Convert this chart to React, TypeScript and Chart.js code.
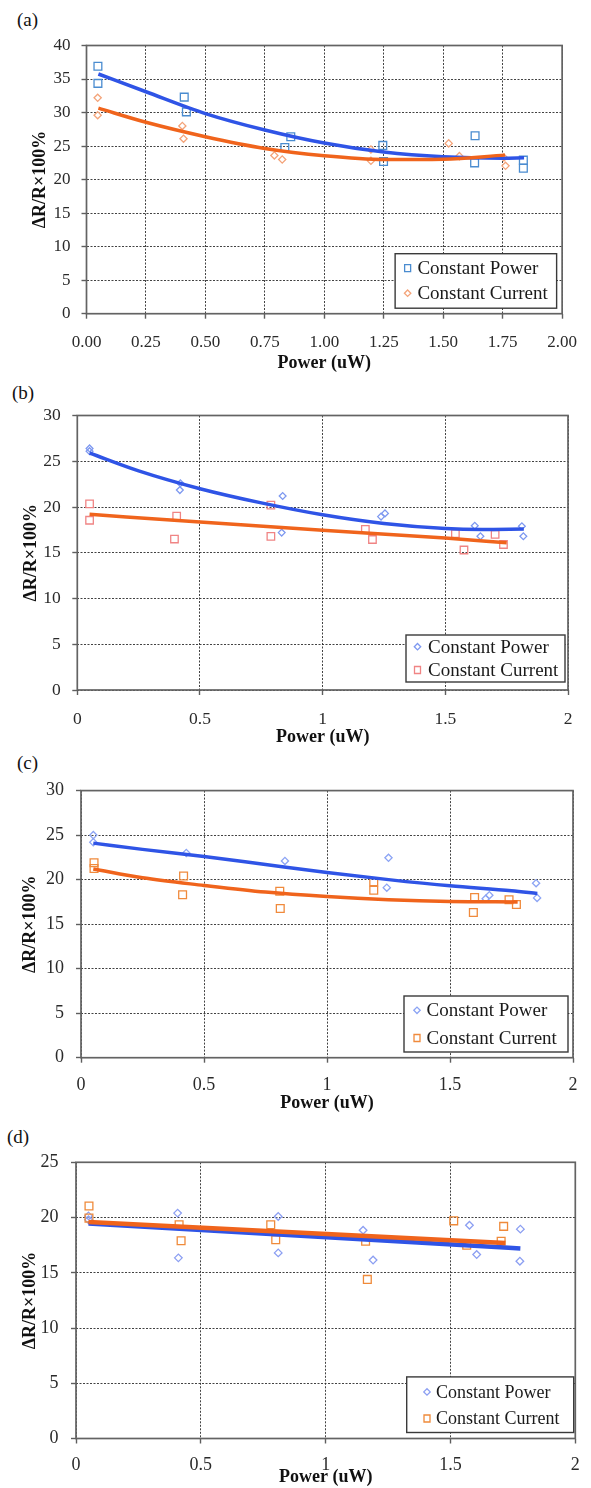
import React, { useEffect, useRef } from "react";
import { Chart, registerables } from "chart.js";

Chart.register(...registerables);

const SERIF = '"Liberation Serif", "Times New Roman", serif';

// ---------------- Data ----------------
const X_TICKS_A = ["0.00", "0.25", "0.50", "0.75", "1.00", "1.25", "1.50", "1.75", "2.00"];
const X_TICKS_BCD = ["0", "0.5", "1", "1.5", "2"];
const SERIES_LABELS = ["Constant Power", "Constant Current"];
const PANEL_LABELS = ["(a)", "(b)", "(c)", "(d)"];
const X_TITLE = "Power (uW)";
const Y_TITLE = "ΔR/R×100%";

// (a)
const A_POWER_X = [0.048, 0.048, 0.411, 0.42, 0.859, 0.834, 1.246, 1.249, 1.634, 1.632, 1.837, 1.837];
const A_POWER_Y = [36.9, 34.35, 32.3, 30.1, 26.4, 24.8, 25.1, 22.7, 26.55, 22.5, 22.9, 21.7];
const A_CURRENT_X = [0.047, 0.047, 0.403, 0.408, 0.79, 0.823, 1.196, 1.196, 1.523, 1.568, 1.762, 1.755];
const A_CURRENT_Y = [32.2, 29.6, 28.0, 26.1, 23.6, 23.0, 22.8, 24.5, 25.4, 23.5, 22.05, 23.3];
const A_POWER_FIT_X = [0.05, 0.25, 0.5, 0.75, 1.0, 1.25, 1.5, 1.75, 1.84];
const A_POWER_FIT_Y = [35.75, 33.1, 29.85, 27.4, 25.45, 24.1, 23.4, 23.2, 23.25];
const A_CURRENT_FIT_X = [0.05, 0.25, 0.5, 0.75, 1.0, 1.25, 1.5, 1.76];
const A_CURRENT_FIT_Y = [30.65, 28.55, 26.4, 24.65, 23.55, 23.0, 23.05, 23.65];

// (b)
const B_POWER_X = [0.05, 0.05, 0.418, 0.42, 0.837, 0.833, 1.238, 1.254, 1.62, 1.643, 1.812, 1.818];
const B_POWER_Y = [26.4, 26.1, 21.85, 22.6, 21.2, 17.2, 18.95, 19.3, 17.95, 16.8, 17.9, 16.8];
const B_CURRENT_X = [0.05, 0.05, 0.405, 0.396, 0.789, 0.789, 1.174, 1.203, 1.541, 1.576, 1.703, 1.737];
const B_CURRENT_Y = [20.35, 18.55, 19.0, 16.5, 20.2, 16.8, 17.55, 16.45, 17.1, 15.3, 17.0, 15.9];
const B_POWER_FIT_X = [0.05, 0.25, 0.5, 0.75, 1.0, 1.25, 1.5, 1.65, 1.82];
const B_POWER_FIT_Y = [25.9, 23.95, 22.0, 20.45, 19.15, 18.2, 17.65, 17.55, 17.6];
const B_CURRENT_FIT_X = [0.05, 0.5, 1.0, 1.5, 1.75];
const B_CURRENT_FIT_Y = [19.2, 18.35, 17.45, 16.6, 16.1];

// (c)
const C_POWER_X = [0.05, 0.05, 0.428, 0.829, 1.25, 1.243, 1.645, 1.66, 1.85, 1.854];
const C_POWER_Y = [25.0, 24.2, 23.0, 22.1, 22.45, 19.1, 17.85, 18.25, 19.6, 17.95];
const C_CURRENT_X = [0.053, 0.053, 0.417, 0.413, 0.808, 0.81, 1.19, 1.19, 1.6, 1.595, 1.74, 1.77];
const C_CURRENT_Y = [21.9, 21.25, 20.4, 18.3, 18.7, 16.75, 19.75, 18.8, 18.0, 16.3, 17.75, 17.2];
const C_POWER_FIT_X = [0.05, 0.25, 0.5, 0.75, 1.0, 1.25, 1.5, 1.75, 1.855];
const C_POWER_FIT_Y = [24.1, 23.4, 22.6, 21.7, 20.8, 20.0, 19.3, 18.75, 18.45];
const C_CURRENT_FIT_X = [0.05, 0.25, 0.5, 0.75, 1.0, 1.25, 1.5, 1.775];
const C_CURRENT_FIT_Y = [21.2, 20.2, 19.35, 18.6, 18.1, 17.75, 17.55, 17.5];

// (d)
const D_POWER_X = [0.05, 0.05, 0.407, 0.41, 0.81, 0.81, 1.15, 1.19, 1.576, 1.605, 1.78, 1.778];
const D_POWER_Y = [20.15, 19.8, 20.4, 16.35, 20.1, 16.8, 18.85, 16.15, 19.3, 16.65, 18.95, 16.05];
const D_CURRENT_X = [0.052, 0.052, 0.413, 0.421, 0.78, 0.8, 1.16, 1.167, 1.513, 1.565, 1.713, 1.703];
const D_CURRENT_Y = [21.05, 19.95, 19.35, 17.9, 19.35, 18.0, 17.85, 14.4, 19.7, 17.5, 19.2, 17.85];
const D_POWER_FIT_X = [0.05, 1.78];
const D_POWER_FIT_Y = [19.45, 17.2];
const D_CURRENT_FIT_X = [0.05, 1.72];
const D_CURRENT_FIT_Y = [19.6, 17.7];

// ---------------- Styles ----------------
const FIT_BLUE = "#2f54e6";
const FIT_ORANGE = "#f0641c";

const pts = (xs: number[], ys: number[]) => xs.map((x, i) => ({ x, y: ys[i] }));

type LegendBox = {
  right: number; bottom: number; w: number; h: number; rows: number[];
  markerX: number; textX: number; font: number;
};
type Panel = {
  label: string;
  labelLeft: number;
  labelTop: number;
  top: number;
  height: number;
  padTop: number;
  padRight: number;
  yWidth: number;
  xHeight: number;
  yMax: number;
  xStep: number;
  xLabels: string[];
  tickFont: number;
  xTickPad: number;
  yTickPad: number;
  yTitlePad: number;
  fitWidth: number;
  legend: LegendBox;
  power: { x: number[]; y: number[]; style: string; color: string; r: number };
  current: { x: number[]; y: number[]; style: string; color: string; r: number };
  powerFit: { x: number[]; y: number[] };
  currentFit: { x: number[]; y: number[] };
};

const PANELS: Panel[] = [
  {
    label: PANEL_LABELS[0], labelLeft: 17, labelTop: 10,
    top: 0, height: 374, padTop: 45.5, padRight: 20.5, yWidth: 86.5, xHeight: 60.3,
    yMax: 40, xStep: 0.25, xLabels: X_TICKS_A, tickFont: 17, xTickPad: 14, yTickPad: 11, yTitlePad: 29.2,
    fitWidth: 3.5,
    legend: { right: 5.5, bottom: 5.5, w: 161.5, h: 54.5, rows: [14.5, 39.5], markerX: 12.5, textX: 22.3, font: 19 },
    power: { x: A_POWER_X, y: A_POWER_Y, style: "rect", color: "#4a8cd0", r: 5.5 },
    current: { x: A_CURRENT_X, y: A_CURRENT_Y, style: "rectRot", color: "#f4a47a", r: 3.6 },
    powerFit: { x: A_POWER_FIT_X, y: A_POWER_FIT_Y },
    currentFit: { x: A_CURRENT_FIT_X, y: A_CURRENT_FIT_Y },
  },
  {
    label: PANEL_LABELS[1], labelLeft: 12, labelTop: 383,
    top: 374, height: 374, padTop: 41.5, padRight: 23, yWidth: 77.3, xHeight: 58,
    yMax: 30, xStep: 0.5, xLabels: X_TICKS_BCD, tickFont: 17.5, xTickPad: 13.5, yTickPad: 11.5, yTitlePad: 20.2,
    fitWidth: 3.5,
    legend: { right: 3, bottom: 8, w: 159, h: 47, rows: [11.7, 35], markerX: 11.5, textX: 22, font: 19 },
    power: { x: B_POWER_X, y: B_POWER_Y, style: "rectRot", color: "#7d98f0", r: 3.4 },
    current: { x: B_CURRENT_X, y: B_CURRENT_Y, style: "rect", color: "#f08484", r: 5.3 },
    powerFit: { x: B_POWER_FIT_X, y: B_POWER_FIT_Y },
    currentFit: { x: B_CURRENT_FIT_X, y: B_CURRENT_FIT_Y },
  },
  {
    label: PANEL_LABELS[2], labelLeft: 17, labelTop: 753,
    top: 748, height: 366, padTop: 42.6, padRight: 18, yWidth: 81, xHeight: 56.3,
    yMax: 30, xStep: 0.5, xLabels: X_TICKS_BCD, tickFont: 18, xTickPad: 11.5, yTickPad: 12, yTitlePad: 19.2,
    fitWidth: 3.5,
    legend: { right: 5, bottom: 5.7, w: 164, h: 56, rows: [14.3, 42], markerX: 13, textX: 22.5, font: 19 },
    power: { x: C_POWER_X, y: C_POWER_Y, style: "rectRot", color: "#8ca4f4", r: 3.6 },
    current: { x: C_CURRENT_X, y: C_CURRENT_Y, style: "rect", color: "#f08a3c", r: 5.5 },
    powerFit: { x: C_POWER_FIT_X, y: C_POWER_FIT_Y },
    currentFit: { x: C_CURRENT_FIT_X, y: C_CURRENT_FIT_Y },
  },
  {
    label: PANEL_LABELS[3], labelLeft: 7, labelTop: 1127,
    top: 1114, height: 374, padTop: 48.3, padRight: 15.7, yWidth: 76, xHeight: 49.5,
    yMax: 25, xStep: 0.5, xLabels: X_TICKS_BCD, tickFont: 18, xTickPad: 10.7, yTickPad: 12.6, yTitlePad: 19.2,
    fitWidth: 4.5,
    legend: { right: 1.6, bottom: 6, w: 167, h: 55.6, rows: [15, 41.6], markerX: 20.3, textX: 29.3, font: 18 },
    power: { x: D_POWER_X, y: D_POWER_Y, style: "rectRot", color: "#8c9ff2", r: 3.8 },
    current: { x: D_CURRENT_X, y: D_CURRENT_Y, style: "rect", color: "#ef8a3a", r: 5.5 },
    powerFit: { x: D_POWER_FIT_X, y: D_POWER_FIT_Y },
    currentFit: { x: D_CURRENT_FIT_X, y: D_CURRENT_FIT_Y },
  },
];

function drawMarker(ctx: CanvasRenderingContext2D, style: string, x: number, y: number, color: string) {
  ctx.save();
  ctx.strokeStyle = color;
  ctx.lineWidth = 1.3;
  ctx.beginPath();
  if (style === "rect") {
    ctx.rect(x - 3, y - 3.5, 6, 7);
  } else {
    ctx.moveTo(x - 3.2, y);
    ctx.lineTo(x, y - 3.2);
    ctx.lineTo(x + 3.2, y);
    ctx.lineTo(x, y + 3.2);
    ctx.closePath();
  }
  ctx.stroke();
  ctx.restore();
}

const frameLegendPlugin = {
  id: "frameLegend",
  beforeDatasetsDraw(chart: any) {
    const { ctx, chartArea: a } = chart;
    ctx.save();
    ctx.strokeStyle = "#636363";
    ctx.lineWidth = 1.7;
    ctx.strokeRect(a.left, a.top, a.right - a.left, a.bottom - a.top);
    ctx.restore();
  },
  afterDraw(chart: any, _args: any, opts: any) {
    const L: LegendBox = opts.box;
    if (!L) return;
    const { ctx, chartArea: a } = chart;
    const x0 = a.right - L.right - L.w;
    const y0 = a.bottom - L.bottom - L.h;
    ctx.save();
    ctx.fillStyle = "#ffffff";
    ctx.fillRect(x0, y0, L.w, L.h);
    ctx.strokeStyle = "#3a3a3a";
    ctx.lineWidth = 1.4;
    ctx.strokeRect(x0, y0, L.w, L.h);
    const items = chart.data.datasets.filter((d: any) => d.inLegend);
    items.forEach((d: any, i: number) => {
      const cy = y0 + L.rows[i];
      drawMarker(ctx, d.pointStyle, x0 + L.markerX, cy, d.borderColor);
      ctx.fillStyle = "#1a1a1a";
      ctx.font = `${L.font}px ${SERIF}`;
      ctx.textAlign = "left";
      ctx.textBaseline = "middle";
      ctx.fillText(d.label, x0 + L.textX, cy + 1);
    });
    ctx.restore();
  },
};

function ChartPanel({ p }: { p: Panel }) {
  const ref = useRef<HTMLCanvasElement>(null);
  useEffect(() => {
    if (!ref.current) return;
    const gridCommon = {
      color: "rgba(45,45,45,0.9)",
      lineWidth: 1,
      drawTicks: true,
      tickLength: 5,
      tickColor: "#5e5e5e",
      tickWidth: 1.4,
    };
    const chart = new Chart(ref.current, {
      type: "scatter",
      data: {
        datasets: [
          {
            label: SERIES_LABELS[0] + " fit",
            data: pts(p.powerFit.x, p.powerFit.y),
            showLine: true,
            borderColor: FIT_BLUE,
            borderWidth: p.fitWidth,
            pointRadius: 0,
            cubicInterpolationMode: "monotone",
            fill: false,
            order: 1,
          },
          {
            label: SERIES_LABELS[1] + " fit",
            data: pts(p.currentFit.x, p.currentFit.y),
            showLine: true,
            borderColor: FIT_ORANGE,
            borderWidth: p.fitWidth,
            pointRadius: 0,
            cubicInterpolationMode: "monotone",
            fill: false,
            order: 0,
          },
          {
            label: SERIES_LABELS[0],
            inLegend: true,
            data: pts(p.power.x, p.power.y),
            pointStyle: p.power.style,
            pointRadius: p.power.r,
            borderColor: p.power.color,
            backgroundColor: "rgba(255,255,255,0)",
            borderWidth: 1.3,
            order: 3,
          } as any,
          {
            label: SERIES_LABELS[1],
            inLegend: true,
            data: pts(p.current.x, p.current.y),
            pointStyle: p.current.style,
            pointRadius: p.current.r,
            borderColor: p.current.color,
            backgroundColor: "rgba(255,255,255,0)",
            borderWidth: 1.3,
            order: 2,
          } as any,
        ],
      },
      options: {
        animation: false,
        responsive: false,
        maintainAspectRatio: false,
        devicePixelRatio: 1,
        events: [],
        layout: { padding: { left: 0, right: p.padRight, top: p.padTop, bottom: 0 } },
        plugins: {
          legend: { display: false },
          tooltip: { enabled: false },
          frameLegend: { box: p.legend },
        } as any,
        scales: {
          x: {
            type: "linear",
            min: 0,
            max: 2,
            afterFit: (s: any) => {
              s.height = p.xHeight;
            },
            ticks: {
              stepSize: p.xStep,
              autoSkip: false,
              maxRotation: 0,
              padding: p.xTickPad,
              color: "#2a2a2a",
              font: { family: SERIF, size: p.tickFont },
              callback: (_v: any, i: number) => p.xLabels[i],
            },
            grid: gridCommon,
            border: { display: false, dash: [2, 1.5] },
            title: {
              display: true,
              text: X_TITLE,
              color: "#111",
              font: { family: SERIF, size: 18, weight: "bold" },
              padding: { top: 0, bottom: 0 },
            },
          },
          y: {
            type: "linear",
            min: 0,
            max: p.yMax,
            afterFit: (s: any) => {
              s.width = p.yWidth;
            },
            ticks: {
              stepSize: 5,
              padding: p.yTickPad,
              color: "#2a2a2a",
              font: { family: SERIF, size: p.tickFont },
            },
            grid: gridCommon,
            border: { display: false, dash: [2, 1.5] },
            title: {
              display: true,
              text: Y_TITLE,
              color: "#111",
              font: { family: SERIF, size: 18, weight: "bold" },
              padding: { top: p.yTitlePad, bottom: 0 },
            },
          },
        },
      } as any,
      plugins: [frameLegendPlugin as any],
    });
    return () => chart.destroy();
  }, [p]);
  return (
    <>
      <div
        style={{
          position: "absolute",
          left: p.labelLeft,
          top: p.labelTop,
          fontFamily: SERIF,
          fontSize: 19,
          lineHeight: "20px",
          color: "#111",
        }}
      >
        {p.label}
      </div>
      <canvas
        ref={ref}
        width={591}
        height={p.height}
        style={{ position: "absolute", left: 0, top: p.top, width: 591, height: p.height }}
      />
    </>
  );
}

export default function App() {
  return (
    <div
      style={{
        position: "absolute",
        left: 0,
        top: 0,
        width: 591,
        height: 1488,
        overflow: "hidden",
        background: "#fff",
      }}
    >
      {PANELS.map((p) => (
        <ChartPanel key={p.label} p={p} />
      ))}
    </div>
  );
}
